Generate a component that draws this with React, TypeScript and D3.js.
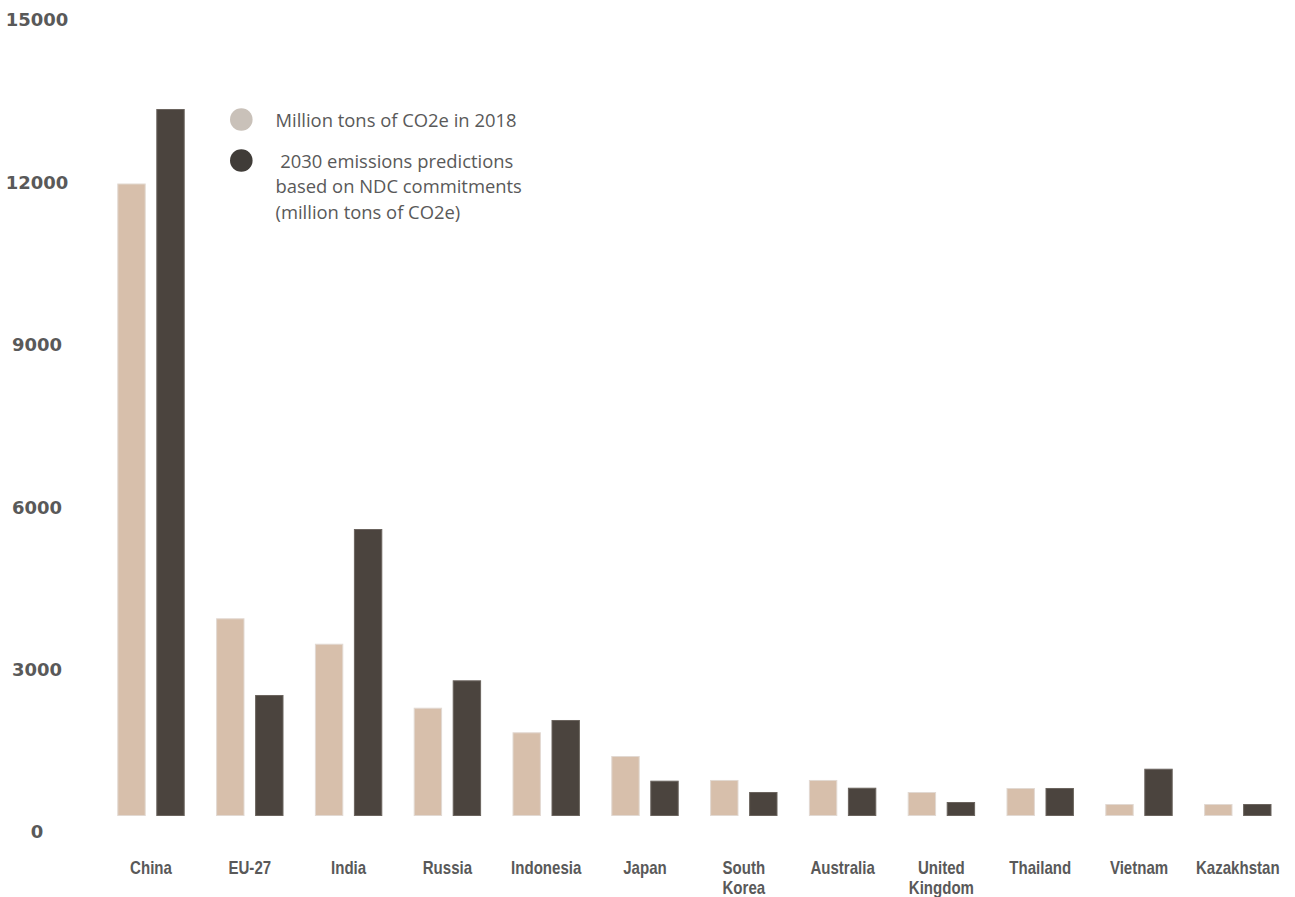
import React from "react";
import * as d3 from "d3";

const categories = ["China", "EU-27", "India", "Russia", "Indonesia", "Japan", "South Korea", "Australia", "United Kingdom", "Thailand", "Vietnam", "Kazakhstan"];
const categoryLines = [["China"], ["EU-27"], ["India"], ["Russia"], ["Indonesia"], ["Japan"], ["South", "Korea"], ["Australia"], ["United", "Kingdom"], ["Thailand"], ["Vietnam"], ["Kazakhstan"]];
const emissions2018 = [11980, 3948, 3478, 2296, 1842, 1404, 961, 961, 739, 813, 517, 517];
const emissions2030 = [13356, 2531, 5597, 2802, 2069, 948, 739, 818, 554, 813, 1169, 517];
const yTicks = [0, 3000, 6000, 9000, 12000, 15000];
const seriesKeys = ["y2018", "y2030"];
const legendLabels = [["Million tons of CO2e in 2018"], [" 2030 emissions predictions", "based on NDC commitments", "(million tons of CO2e)"]];

const W = 1295;
const H = 897;
const COLOR_2018 = "#d7bfab";
const STROKE_2018 = "#e2d9d2";
const COLOR_2030 = "#4b443e";
const STROKE_2030 = "#6b645e";
const LEG_2018 = "#c9c1b9";
const LEG_2030 = "#403c38";
const TEXT = "#595959";

export default function App() {
  const y = d3.scaleLinear().domain([0, 15000]).range([832, 20]);
  const baseline = y(0) - 16;
  const x = d3.scalePoint<string>().domain(categories).range([151, 1237.8]);
  const inner = d3.scaleBand<string>().domain(seriesKeys).range([-33.7, 33.7]).paddingInner(0.272).paddingOuter(0);
  const series = [
    { key: "y2018", values: emissions2018, fill: COLOR_2018, stroke: STROKE_2018 },
    { key: "y2030", values: emissions2030, fill: COLOR_2030, stroke: STROKE_2030 },
  ];
  const legendColors = [LEG_2018, LEG_2030];
  const legendY = [119.5, 160.5];

  return (
    <svg width={W} height={H} style={{ position: "absolute", left: 0, top: 0, display: "block", background: "#fff" }}>
      <defs>
        <clipPath id="xclip">
          <rect x={0} y={0} width={1281} height={H} />
        </clipPath>
      </defs>
      {/* y tick labels */}
      <g fontFamily="'DejaVu Sans', sans-serif" fontWeight="bold" fontSize={18} fill={TEXT} textAnchor="middle">
        {yTicks.map((t) => (
          <text key={t} x={37} y={y(t)} dy="0.36em">{t}</text>
        ))}
      </g>
      {/* bars */}
      {series.map((s) => (
        <g key={s.key}>
          {categories.map((c, i) => {
            const bx = (x(c) as number) + (inner(s.key) as number);
            const top = y(s.values[i]);
            return (
              <rect key={c} x={bx + 0.5} y={top + 0.5} width={inner.bandwidth() - 1} height={Math.max(0, baseline - top - 1)} fill={s.fill} stroke={s.stroke} strokeWidth={1} />
            );
          })}
        </g>
      ))}
      {/* x labels */}
      <g clipPath="url(#xclip)">
        <g fontFamily="'Liberation Sans', Arial, sans-serif" fontWeight="bold" fontSize={17.5} fill={TEXT} textAnchor="middle">
          {categories.map((c, i) => (
            <text key={c} transform={`translate(${x(c)},874) scale(0.86,1)`} x={0} y={0}>
              {categoryLines[i].map((ln, j) => (
                <tspan key={j} x={0} dy={j === 0 ? 0 : 20}>{ln}</tspan>
              ))}
            </text>
          ))}
        </g>
      </g>
      {/* legend */}
      <g fontFamily="'Open Sans', sans-serif" fontSize={18.4} fill={TEXT}>
        {legendLabels.map((lines, i) => (
          <g key={i}>
            <circle cx={241.3} cy={legendY[i]} r={11.3} fill={legendColors[i]} />
            <text x={275.5} y={legendY[i] + 7.2} style={{ whiteSpace: "pre" }}>
              {lines.map((ln, j) => (
                <tspan key={j} x={275.5} dy={j === 0 ? 0 : 25.7}>{ln}</tspan>
              ))}
            </text>
          </g>
        ))}
      </g>
    </svg>
  );
}
